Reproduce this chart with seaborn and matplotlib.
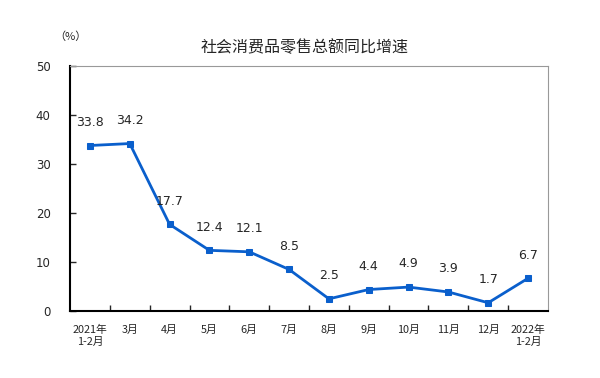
import matplotlib
matplotlib.use("Agg")
import matplotlib.pyplot as plt
import seaborn as sns
import pandas as pd

months = ['2021年\n1-2月', '3月', '4月', '5月', '6月', '7月', '8月', '9月', '10月', '11月', '12月', '2022年\n1-2月']
growth = [33.8, 34.2, 17.7, 12.4, 12.1, 8.5, 2.5, 4.4, 4.9, 3.9, 1.7, 6.7]
yticks = [0, 10, 20, 30, 40, 50]

sns.set_style("white")
plt.rcParams['font.family'] = ['Noto Sans CJK SC', 'DejaVu Sans']

df = pd.DataFrame({'month': months, 'growth': growth})
df['x'] = range(len(df))

fig = plt.figure(figsize=(6, 3.78), dpi=100)
ax = fig.add_axes([0.1167, 0.177, 0.7966, 0.648])

color = '#0a5fcc'
sns.lineplot(data=df, x='x', y='growth', ax=ax, color=color, linewidth=2,
             marker='s', markersize=5, markeredgecolor=color)

for i, v in enumerate(growth):
    ax.annotate(f'{v}', (i, v), xytext=(0, 12), textcoords='offset points',
                ha='center', va='bottom', fontsize=9, fontfamily='DejaVu Sans')

ax.set_xlim(-0.5, len(months) - 0.5)
ax.set_ylim(0, 50)
ax.set_yticks(yticks)
ax.set_yticklabels([str(t) for t in yticks], fontsize=8.5, fontfamily='DejaVu Sans')
ax.tick_params(axis='y', direction='in', length=4, width=1, pad=14, left=True)

ax.set_xticks(range(len(months)))
ax.set_xticklabels(months, fontsize=7.8)
ax.set_xticks([i + 0.5 for i in range(len(months) - 1)], minor=True)
ax.tick_params(axis='x', which='major', length=0, pad=10)
ax.tick_params(axis='x', which='minor', direction='in', length=4, width=1, bottom=True)

ax.set_xlabel('')
ax.set_ylabel('')
ax.spines['left'].set_color('black')
ax.spines['bottom'].set_color('black')
ax.spines['left'].set_linewidth(1.5)
ax.spines['bottom'].set_linewidth(1.5)
ax.spines['top'].set_color('#999999')
ax.spines['right'].set_color('#999999')

fig.text(0.508, 0.875, '社会消费品零售总额同比增速', ha='center', va='center', fontsize=11.5)
fig.text(0.118, 0.902, '（%）', ha='center', va='center', fontsize=8)

fig.savefig('out.png', dpi=100)
